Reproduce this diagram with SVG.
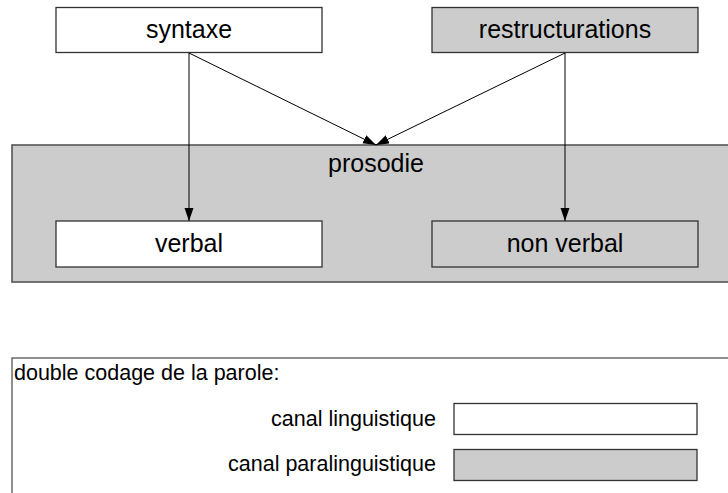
<svg xmlns="http://www.w3.org/2000/svg" width="728" height="493" viewBox="0 0 728 493">
<style>
.box{stroke:#333;stroke-width:1.3}
.w{fill:#fff}
.g{fill:#ccc}
.t{font-family:"Liberation Sans",Arial,sans-serif;fill:#000}
.big{font-size:25px;text-anchor:middle}
.small{font-size:21.5px}
.con{stroke:#000;stroke-width:1;fill:none;marker-end:url(#ah)}
</style>
<defs>
<marker id="ah" markerUnits="userSpaceOnUse" markerWidth="14" markerHeight="10" refX="13" refY="4.5" orient="auto">
<path d="M0,0 L13,4.5 L0,9 z" fill="#000"/>
</marker>
</defs>
<rect width="728" height="493" fill="#fff"/>
<g id="prosodie">
<rect class="box g" x="12" y="145" width="730" height="137" style="stroke:#555;stroke-width:1.6"/>
<text class="t big" x="376" y="172">prosodie</text>
</g>
<g id="syntaxe">
<rect class="box w" x="56" y="7.5" width="266" height="45"/>
<text class="t big" x="189" y="38">syntaxe</text>
</g>
<g id="restructurations">
<rect class="box g" x="432" y="7.5" width="266" height="45"/>
<text class="t big" x="565" y="38">restructurations</text>
</g>
<g id="verbal">
<rect class="box w" x="56" y="221" width="266" height="46"/>
<text class="t big" x="189" y="252">verbal</text>
</g>
<g id="nonverbal">
<rect class="box g" x="432" y="221" width="266" height="46"/>
<text class="t big" x="565" y="252">non verbal</text>
</g>
<g id="connectors">
<line class="con" x1="189" y1="53" x2="189" y2="221"/>
<line class="con" x1="189" y1="53" x2="376" y2="145"/>
<line class="con" x1="565" y1="53" x2="565" y2="221"/>
<line class="con" x1="565" y1="53" x2="376" y2="145"/>
</g>
<g id="legend">
<rect class="box w" x="12" y="358" width="730" height="150" style="stroke:#555"/>
<text class="t small" x="14" y="380">double codage de la parole:</text>
<text class="t small" x="436" y="426" text-anchor="end">canal linguistique</text>
<text class="t small" x="436" y="471" text-anchor="end">canal paralinguistique</text>
<rect class="box w" x="454" y="403.5" width="243" height="31"/>
<rect class="box g" x="454" y="449.5" width="243" height="31"/>
</g>
</svg>
